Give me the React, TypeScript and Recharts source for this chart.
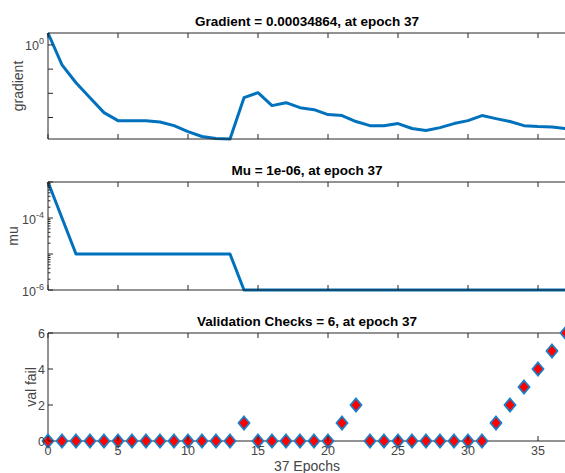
import { Label, Line, LineChart, XAxis, YAxis } from "recharts"

const epochs = [
  0, 1, 2, 3, 4, 5, 6, 7, 8, 9, 10, 11, 12, 13, 14, 15, 16, 17, 18, 19, 20, 21,
  22, 23, 24, 25, 26, 27, 28, 29, 30, 31, 32, 33, 34, 35, 36, 37,
]

const gradientValues = [
  3.12, 0.15, 0.0273, 0.00659, 0.00159, 7.4e-4, 7.4e-4, 7.4e-4, 6.5e-4, 4.6e-4,
  2.6e-4, 1.64e-4, 1.35e-4, 1.29e-4, 6.6e-3, 1.06e-2, 3.1e-3, 4.1e-3, 2.55e-3,
  2.1e-3, 1.32e-3, 1.2e-3, 6.8e-4, 4.6e-4, 4.6e-4, 5.6e-4, 3.5e-4, 2.9e-4,
  3.8e-4, 5.6e-4, 7.4e-4, 1.2e-3, 9.0e-4, 6.8e-4, 4.6e-4, 4.2e-4, 4.0e-4,
  3.4864e-4,
]

const muValues = [
  1e-3, 1e-4, 1e-5, 1e-5, 1e-5, 1e-5, 1e-5, 1e-5, 1e-5, 1e-5, 1e-5, 1e-5, 1e-5,
  1e-5, 1e-6, 1e-6, 1e-6, 1e-6, 1e-6, 1e-6, 1e-6, 1e-6, 1e-6, 1e-6, 1e-6, 1e-6,
  1e-6, 1e-6, 1e-6, 1e-6, 1e-6, 1e-6, 1e-6, 1e-6, 1e-6, 1e-6, 1e-6, 1e-6,
]

const valFailValues = [
  0, 0, 0, 0, 0, 0, 0, 0, 0, 0, 0, 0, 0, 0, 1, 0, 0, 0, 0, 0, 0, 1, 2, 0, 0, 0,
  0, 0, 0, 0, 0, 0, 1, 2, 3, 4, 5, 6,
]

const epochTicks = [0, 5, 10, 15, 20, 25, 30, 35]
const gradientTicks = [1, 0.1, 0.01, 0.001]
const gradientLabels = [1]
const muTicks = [
  1e-6, 2e-6, 3e-6, 4e-6, 5e-6, 6e-6, 7e-6, 8e-6, 9e-6, 1e-5, 2e-5, 3e-5, 4e-5,
  5e-5, 6e-5, 7e-5, 8e-5, 9e-5, 1e-4, 2e-4, 3e-4, 4e-4, 5e-4, 6e-4, 7e-4, 8e-4,
  9e-4, 1e-3,
]
const muLabels = [1e-6, 1e-4]
const valFailTicks = [0, 2, 4, 6]

const titles = [
  "Gradient = 0.00034864, at epoch 37",
  "Mu = 1e-06, at epoch 37",
  "Validation Checks = 6, at epoch 37",
]

const rows = epochs.map((epoch, i) => ({
  epoch,
  gradient: gradientValues[i],
  mu: muValues[i],
  valFail: valFailValues[i],
}))

const AXIS = "#262626"
const TEXT = "#454545"
const BLUE = "#0072BD"
const FONT = "'Liberation Sans', Arial, Helvetica, sans-serif"
const W = 620
const MARGIN_RIGHT = 54

function XTick(props: any) {
  const { x, y, payload, showLabel, top } = props
  return (
    <g>
      <line x1={x} x2={x} y1={y} y2={top ? y + 5 : y - 5} stroke={AXIS} />
      {showLabel && (
        <text x={x} y={y + 14} textAnchor="middle" fill={TEXT} fontSize={12.5} fontFamily={FONT}>
          {payload.value}
        </text>
      )}
    </g>
  )
}

function LogTick(props: any) {
  const { x, y, payload, labels } = props
  const v = payload.value
  const exp = Math.round(Math.log10(v))
  const major = Math.abs(Math.log10(v) - exp) < 1e-6
  return (
    <g>
      <line x1={x} x2={x + (major ? 5 : 2.5)} y1={y} y2={y} stroke={AXIS} />
      {labels.includes(v) && (
        <text x={x - 4} y={y + 5.5} textAnchor="end" fill={TEXT} fontSize={12.5} fontFamily={FONT}>
          10
          <tspan dy={-6} fontSize={9}>
            {exp < 0 ? "-" + Math.abs(exp) : exp}
          </tspan>
        </text>
      )}
    </g>
  )
}

function LinTick(props: any) {
  const { x, y, payload } = props
  return (
    <g>
      <line x1={x} x2={x + 5} y1={y} y2={y} stroke={AXIS} />
      <text x={x - 3} y={y + 4.5} textAnchor="end" fill={TEXT} fontSize={12.5} fontFamily={FONT}>
        {payload.value}
      </text>
    </g>
  )
}

function Diamond(props: any) {
  const { cx, cy, index } = props
  if (cx == null || cy == null) return <g key={index} />
  const pts = `${cx},${cy - 6.5} ${cx + 5.5},${cy} ${cx},${cy + 6.5} ${cx - 5.5},${cy}`
  return <polygon key={index} points={pts} fill="#ff0000" stroke="#1a80c8" strokeWidth={1.8} />
}

function TitleText(props: any) {
  const { viewBox, text } = props
  const cx = viewBox.x + viewBox.width / 2
  return (
    <text x={cx} y={viewBox.y - 6} textAnchor="middle" fill="#000" fontSize={13.5} fontWeight="bold" fontFamily={FONT}>
      {text}
    </text>
  )
}

function YLabelText(props: any) {
  const { viewBox, text, cx } = props
  const cy = viewBox.y + viewBox.height / 2
  return (
    <text
      x={cx}
      y={cy}
      transform={`rotate(-90 ${cx} ${cy})`}
      dy="0.35em"
      textAnchor="middle"
      fill={TEXT}
      fontSize={14}
      fontFamily={FONT}
    >
      {text}
    </text>
  )
}

function XLabelText(props: any) {
  const { viewBox, text } = props
  const cx = viewBox.x + viewBox.width / 2
  return (
    <text x={cx} y={viewBox.y + 30} textAnchor="middle" fill={TEXT} fontSize={14} fontFamily={FONT}>
      {text}
    </text>
  )
}

const xCommon = {
  dataKey: "epoch",
  type: "number" as const,
  domain: [0, 37],
  ticks: epochTicks,
  interval: 0,
  height: 1,
  tickSize: 0,
  tickMargin: 0,
  tickLine: false,
  axisLine: { stroke: AXIS },
}

const yCommon = {
  type: "number" as const,
  interval: 0,
  width: 48,
  tickSize: 0,
  tickMargin: 0,
  tickLine: false,
  axisLine: { stroke: AXIS },
}

export default function App() {
  const gMin = Math.min(...gradientValues)
  const gMax = Math.max(...gradientValues)
  return (
    <div
      style={{
        position: "fixed",
        left: 0,
        top: 0,
        width: 565,
        height: 473,
        overflow: "hidden",
        background: "#fff",
      }}
    >
      <div style={{ position: "absolute", left: 0, top: 0 }}>
        <LineChart width={W} height={150} data={rows} margin={{ top: 32, right: MARGIN_RIGHT, bottom: 10, left: 0 }}>
          <XAxis {...xCommon} tick={(p: any) => <XTick {...p} />} />
          <XAxis {...xCommon} xAxisId="top" orientation="top" tick={(p: any) => <XTick {...p} top />}>
            <Label content={(p: any) => <TitleText {...p} text={titles[0]} />} />
          </XAxis>
          <YAxis
            {...yCommon}
            scale="log"
            domain={[gMin, gMax]}
            ticks={gradientTicks}
            tick={(p: any) => <LogTick {...p} labels={gradientLabels} />}
          >
            <Label content={(p: any) => <YLabelText {...p} text="gradient" cx={18} />} />
          </YAxis>
          <Line
            dataKey="gradient"
            stroke={BLUE}
            strokeWidth={3}
            strokeLinejoin="round"
            dot={false}
            activeDot={false}
            type="linear"
            isAnimationActive={false}
          />
        </LineChart>
      </div>

      <div style={{ position: "absolute", left: 0, top: 150 }}>
        <LineChart width={W} height={150} data={rows} margin={{ top: 31, right: MARGIN_RIGHT, bottom: 9, left: 0 }}>
          <XAxis {...xCommon} tick={(p: any) => <XTick {...p} />} />
          <XAxis {...xCommon} xAxisId="top" orientation="top" tick={(p: any) => <XTick {...p} top />}>
            <Label content={(p: any) => <TitleText {...p} text={titles[1]} />} />
          </XAxis>
          <YAxis
            {...yCommon}
            scale="log"
            domain={[1e-6, 1e-3]}
            ticks={muTicks}
            tick={(p: any) => <LogTick {...p} labels={muLabels} />}
          >
            <Label content={(p: any) => <YLabelText {...p} text="mu" cx={13} />} />
          </YAxis>
          <Line
            dataKey="mu"
            stroke={BLUE}
            strokeWidth={3}
            strokeLinejoin="round"
            dot={false}
            activeDot={false}
            type="linear"
            isAnimationActive={false}
          />
        </LineChart>
      </div>

      <div style={{ position: "absolute", left: 0, top: 300 }}>
        <LineChart width={W} height={173} data={rows} margin={{ top: 32, right: MARGIN_RIGHT, bottom: 31, left: 0 }}>
          <XAxis {...xCommon} tick={(p: any) => <XTick {...p} showLabel />}>
            <Label content={(p: any) => <XLabelText {...p} text="37 Epochs" />} />
          </XAxis>
          <XAxis {...xCommon} xAxisId="top" orientation="top" tick={(p: any) => <XTick {...p} top />}>
            <Label content={(p: any) => <TitleText {...p} text={titles[2]} />} />
          </XAxis>
          <YAxis {...yCommon} domain={[0, 6]} ticks={valFailTicks} tick={(p: any) => <LinTick {...p} />}>
            <Label content={(p: any) => <YLabelText {...p} text="val fail" cx={31} />} />
          </YAxis>
          <Line
            dataKey="valFail"
            stroke="none"
            strokeWidth={0}
            dot={(p: any) => <Diamond {...p} key={p.index} />}
            activeDot={false}
            isAnimationActive={false}
          />
        </LineChart>
      </div>
    </div>
  )
}
